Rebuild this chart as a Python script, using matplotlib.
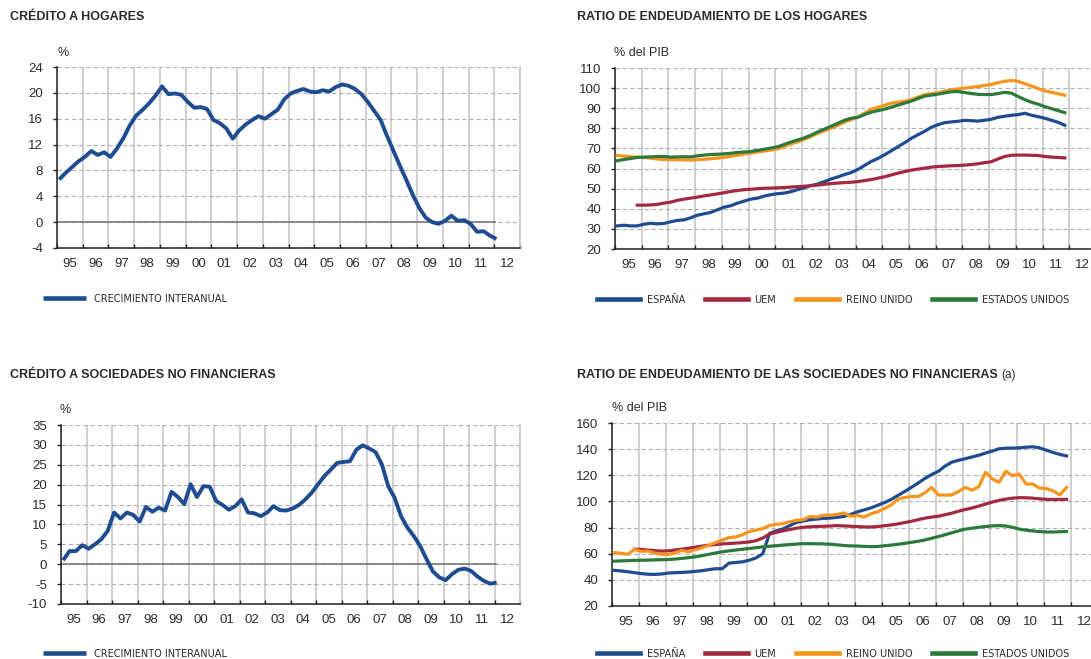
import numpy as np
import matplotlib
matplotlib.use('Agg')
import matplotlib.pyplot as plt
from matplotlib import font_manager

plt.rcParams['font.family'] = ['Liberation Sans', 'DejaVu Sans']
plt.rcParams['axes.unicode_minus'] = False

W, H = 1091, 659

BLUE = '#1f4b91'
RED = '#a4283f'
ORANGE = '#f7941d'
GREEN = '#2b7a3b'
TEXT = '#2b2b2b'
VGRID = '#cbcbcb'
HGRID = '#b0b0b0'

YEAR_LABELS = ['95', '96', '97', '98', '99', '00', '01', '02', '03',
               '04', '05', '06', '07', '08', '09', '10', '11', '12']

# quarterly data, 1995 Q1 onwards
credito_hogares = [
    6.6, 7.6, 8.5, 9.4,
    10.1, 11.0, 10.4, 10.8,
    10.1, 11.4, 13.0, 15.0,
    16.5, 17.4, 18.4, 19.6,
    21.0, 19.8, 19.9, 19.7,
    18.6, 17.7, 17.8, 17.5,
    15.8, 15.3, 14.5, 12.9,
    14.2, 15.1, 15.8, 16.4,
    16.0, 16.7, 17.4, 19.0,
    19.9, 20.3, 20.6, 20.2,
    20.1, 20.4, 20.2, 20.9,
    21.3, 21.1, 20.6, 19.8,
    18.6, 17.2, 15.8, 13.3,
    11.0, 8.7, 6.5, 4.2,
    2.2, 0.7, 0.0, -0.25,
    0.2, 1.0, 0.2, 0.3,
    -0.3, -1.5, -1.4, -2.1,
    -2.6,
]

credito_snf = [
    1.0, 3.3, 3.3, 4.8,
    3.9, 5.0, 6.3, 8.4,
    13.0, 11.5, 13.0, 12.4,
    10.7, 14.4, 13.2, 14.2,
    13.5, 18.2, 16.9, 15.1,
    20.1, 16.9, 19.6, 19.5,
    15.9, 14.9, 13.7, 14.6,
    16.3, 13.0, 12.8, 12.1,
    13.0, 14.6, 13.6, 13.5,
    14.0, 14.9, 16.3, 18.0,
    20.1, 22.2, 23.8, 25.5,
    25.7, 25.9, 28.8, 29.9,
    29.1, 28.2, 25.1, 19.6,
    16.7, 12.1, 9.2, 7.1,
    4.6, 1.3, -1.8, -3.3,
    -4.0, -2.5, -1.4, -1.1,
    -1.7, -3.1, -4.2, -4.9,
    -4.6,
]

hog_espana = [
    31.5, 31.8, 31.5, 31.5,
    32.3, 32.8, 32.5, 32.7,
    33.5, 34.2, 34.5, 35.5,
    36.8, 37.5, 38.2, 39.5,
    40.8, 41.5, 42.8, 43.8,
    44.8, 45.3, 46.3, 47.0,
    47.5, 47.8, 48.5, 49.5,
    50.5, 51.5, 52.3, 53.5,
    54.8, 55.8, 57.0, 58.0,
    59.5, 61.5, 63.5, 65.0,
    66.8, 68.8, 70.8, 72.8,
    75.0, 76.8, 78.5, 80.5,
    81.8, 82.8, 83.2, 83.5,
    84.0, 83.8, 83.6, 84.0,
    84.5, 85.5, 86.0, 86.5,
    86.8, 87.5, 86.5, 85.8,
    85.0, 84.0, 83.0, 81.5,
]
hog_uem = [
    np.nan, np.nan, np.nan, 41.8,
    41.8, 41.9, 42.2, 42.8,
    43.3, 44.2, 44.8, 45.3,
    45.8, 46.4, 46.9, 47.4,
    48.0, 48.6, 49.1, 49.5,
    49.7, 50.0, 50.2, 50.3,
    50.4, 50.6, 50.8, 51.0,
    51.2, 51.5, 51.8, 52.2,
    52.5, 52.8, 53.0, 53.2,
    53.5, 54.0, 54.5, 55.2,
    55.9, 56.8, 57.7, 58.5,
    59.2, 59.7, 60.2, 60.7,
    61.0, 61.2, 61.4, 61.5,
    61.7, 62.0, 62.4, 62.9,
    63.4, 64.8, 66.0, 66.6,
    66.7, 66.7, 66.6, 66.5,
    66.0, 65.7, 65.5, 65.3,
]
hog_reino_unido = [
    66.5, 66.2, 65.9, 65.7,
    65.5, 65.2, 64.8, 64.5,
    64.4, 64.4, 64.3, 64.2,
    64.4, 64.6, 64.9, 65.2,
    65.6, 66.1, 66.6, 67.2,
    67.7, 68.2, 68.7, 69.2,
    69.8, 71.0, 72.2, 73.3,
    74.5, 76.0, 77.5, 78.8,
    80.0, 81.5, 83.0, 84.3,
    85.5, 87.5, 89.5, 90.5,
    91.4, 92.5, 93.0, 93.5,
    94.2, 95.5, 96.7, 97.2,
    97.6, 98.5, 99.2, 99.6,
    100.0, 100.4, 100.8, 101.3,
    101.8, 102.7, 103.4, 103.8,
    103.4, 102.2, 101.0, 99.8,
    98.6, 97.9, 97.2, 96.4,
]
hog_eeuu = [
    63.9, 64.5, 65.0, 65.5,
    65.7, 65.8, 66.0, 66.0,
    65.7, 65.8, 65.9, 65.8,
    66.3, 66.7, 67.0, 67.1,
    67.3, 67.6, 68.0, 68.2,
    68.5, 69.0, 69.6, 70.2,
    70.8, 72.0, 73.2, 74.2,
    75.2, 76.6, 78.2, 79.6,
    81.0, 82.5, 84.0, 85.0,
    85.5, 86.8, 88.0, 88.8,
    89.5, 90.5, 91.5, 92.5,
    93.5, 94.8, 96.0, 96.5,
    97.0, 97.6, 98.2, 98.3,
    97.8, 97.3, 96.9, 96.8,
    96.8, 97.3, 97.9, 97.5,
    95.8, 94.3, 93.0, 92.0,
    90.8, 89.8, 88.8, 87.8,
]

snf_espana = [
    47.3, 46.8, 46.2, 45.5,
    44.8, 44.3, 44.2, 44.5,
    45.2, 45.5, 45.7, 46.0,
    46.5, 47.0, 47.8, 48.5,
    48.5, 52.8, 53.3, 53.8,
    55.0, 56.8, 60.0, 75.5,
    77.5, 79.0, 81.5, 84.0,
    85.0, 86.0, 86.5, 87.0,
    87.3, 87.8, 88.5, 90.0,
    92.0, 93.5, 95.0, 97.0,
    99.0, 101.5, 104.5, 107.5,
    110.7, 114.0, 117.5, 120.5,
    123.0, 127.0, 130.0, 131.5,
    132.7, 134.0, 135.3, 137.0,
    138.5, 140.3, 140.7, 140.8,
    141.0, 141.5, 141.8, 141.0,
    139.2, 137.5, 136.0, 134.8,
]
snf_uem = [
    np.nan, np.nan, np.nan, 63.5,
    63.3, 62.8, 62.3, 62.0,
    62.2, 62.8, 63.5, 64.2,
    65.0, 65.8, 66.5, 67.0,
    67.5, 67.8, 68.1, 68.5,
    69.0, 70.0, 72.0, 75.0,
    76.3, 77.5, 78.5, 79.5,
    80.2, 80.6, 80.8, 81.0,
    81.2, 81.5, 81.3, 81.0,
    80.8, 80.5, 80.4, 80.8,
    81.4, 82.0, 82.8, 83.8,
    84.8, 86.0, 87.2, 88.0,
    88.7, 89.8, 91.0, 92.5,
    93.8, 95.0, 96.4, 98.0,
    99.5, 100.8, 101.8, 102.5,
    102.9, 102.8, 102.5, 102.0,
    101.6, 101.5, 101.5, 101.6,
]
snf_reino_unido = [
    60.8, 60.3, 59.5, 63.3,
    61.8, 62.0, 60.5, 59.5,
    59.5, 60.5, 62.5, 61.5,
    63.0, 64.5, 66.5, 68.5,
    70.5, 72.3, 72.8, 74.5,
    77.0, 78.0, 79.2, 81.5,
    82.5, 83.0, 84.5, 85.5,
    86.0, 88.5, 88.0, 89.5,
    89.5, 90.0, 91.2, 88.7,
    89.4, 87.9, 90.5, 92.0,
    94.5, 97.2, 101.6, 103.0,
    103.7, 103.7, 106.5, 110.7,
    105.0, 104.8, 105.0, 107.6,
    110.7, 108.6, 111.2, 122.3,
    117.2, 114.6, 123.1, 119.7,
    121.0, 113.3, 113.3, 110.2,
    109.9, 108.1, 105.0, 110.7,
]
snf_eeuu = [
    54.3, 54.5, 54.7, 54.9,
    55.0, 55.1, 55.3, 55.4,
    55.5, 55.9, 56.4, 57.0,
    57.6, 58.5, 59.5, 60.5,
    61.5, 62.2, 62.8, 63.4,
    64.0, 64.6, 65.2, 65.7,
    66.1, 66.6, 67.0, 67.4,
    67.7, 67.7, 67.6, 67.5,
    67.2, 66.8, 66.3, 66.0,
    65.9, 65.6, 65.4, 65.5,
    66.1, 66.6, 67.2, 67.9,
    68.7, 69.5, 70.5, 71.8,
    73.1, 74.5, 76.0, 77.5,
    78.8, 79.5, 80.2, 80.8,
    81.3, 81.5, 81.2, 80.2,
    78.8, 78.0, 77.4, 77.0,
    76.6, 76.6, 76.8, 77.0,
]


def narrow_font():
    """ Pick a condensed face for the legends if one is installed. """
    names = {f.name for f in font_manager.fontManager.ttflist}
    if 'Liberation Sans Narrow' in names:
        return {'family': ['Liberation Sans Narrow'], 'size': 8.2}
    condensed = [f for f in font_manager.fontManager.ttflist
                 if f.name == 'DejaVu Sans' and 'condensed' in str(f.stretch)]
    if condensed:
        return {'family': ['DejaVu Sans'], 'stretch': 'condensed', 'size': 7.8}
    return {'family': ['Liberation Sans'], 'size': 7.0}


LEGEND_FONT = narrow_font()


def quarter_x(values):
    # quarterly observations plotted from the second month of each quarter
    return 1995 + 1 / 12 + 0.25 * np.arange(len(values))


def fig_rect(left, top, right, bottom):
    return [left / W, 1 - bottom / H, (right - left) / W, (bottom - top) / H]


def style_axes(ax, ylim, ystep):
    ax.set_xlim(1995, 2013)
    ax.set_ylim(*ylim)
    ax.set_xticks(np.arange(1995, 2014))
    ax.set_xticks(np.arange(1995, 2013) + 0.5, minor=True)
    ax.set_xticklabels([], minor=False)
    ax.set_xticklabels(YEAR_LABELS, minor=True)
    ax.set_yticks(np.arange(ylim[0], ylim[1] + ystep / 2, ystep))
    ax.tick_params(axis='x', which='major', direction='in', length=3,
                   width=1, color='#222222')
    ax.tick_params(axis='x', which='minor', length=0, pad=7,
                   labelsize=9.5, labelcolor=TEXT)
    ax.tick_params(axis='y', direction='out', length=3, width=1,
                   color='#222222', pad=7, labelsize=9.5, labelcolor=TEXT)
    ax.grid(True, axis='x', which='major', color=VGRID, lw=1.3, ls='-')
    ax.grid(True, axis='y', color=HGRID, lw=0.8, ls=(0, (4, 2.5)))
    ax.set_axisbelow(True)
    ax.spines['top'].set_visible(False)
    ax.spines['right'].set_color(VGRID)
    ax.spines['right'].set_linewidth(1.3)
    for side in ['left', 'bottom']:
        ax.spines[side].set_color('#222222')
        ax.spines[side].set_linewidth(1.1)


def add_legend(ax, fig, x, y, textpad):
    leg = ax.legend(loc='center left', bbox_to_anchor=(x / W, 1 - y / H),
                    bbox_transform=fig.transFigure, ncol=4, frameon=False,
                    borderpad=0, borderaxespad=0, handlelength=4.0,
                    handletextpad=textpad, columnspacing=1.8,
                    prop=LEGEND_FONT, labelcolor=TEXT)
    for line in leg.get_lines():
        line.set_linewidth(3.3)
    return leg


fig = plt.figure(figsize=(W / 100, H / 100), dpi=100)
fig.patch.set_facecolor('white')

# crédito a hogares
ax1 = fig.add_axes(fig_rect(57, 67, 520, 248))
style_axes(ax1, (-4, 24), 4)
x1 = quarter_x(credito_hogares)
ax1.hlines(0, 1995, x1[-1], color='#7a7a7a', lw=1.2, zorder=2)
ax1.plot(x1, credito_hogares, color=BLUE, lw=2.8, zorder=3,
         solid_capstyle='butt', label='CRECIMIENTO INTERANUAL')
add_legend(ax1, fig, 43, 299, 0.7)

# ratio hogares
ax2 = fig.add_axes(fig_rect(615, 68, 1096, 249))
style_axes(ax2, (20, 110), 10)
for vals, col, lab in [(hog_espana, BLUE, 'ESPAÑA'),
                       (hog_uem, RED, 'UEM'),
                       (hog_reino_unido, ORANGE, 'REINO UNIDO'),
                       (hog_eeuu, GREEN, 'ESTADOS UNIDOS')]:
    ax2.plot(quarter_x(vals), vals, color=col, lw=2.3, zorder=3, label=lab)
add_legend(ax2, fig, 597, 300, 0.6)

# crédito a sociedades no financieras
ax3 = fig.add_axes(fig_rect(61, 425, 520, 604))
style_axes(ax3, (-10, 35), 5)
x3 = quarter_x(credito_snf)
ax3.hlines(0, 1995, x3[-1], color='#7a7a7a', lw=1.2, zorder=2)
ax3.plot(x3, credito_snf, color=BLUE, lw=2.8, zorder=3,
         solid_capstyle='butt', label='CRECIMIENTO INTERANUAL')
add_legend(ax3, fig, 43, 654, 0.7)

# ratio sociedades no financieras
ax4 = fig.add_axes(fig_rect(612, 423, 1098, 606))
style_axes(ax4, (20, 160), 20)
for vals, col, lab in [(snf_espana, BLUE, 'ESPAÑA'),
                       (snf_uem, RED, 'UEM'),
                       (snf_reino_unido, ORANGE, 'REINO UNIDO'),
                       (snf_eeuu, GREEN, 'ESTADOS UNIDOS')]:
    ax4.plot(quarter_x(vals), vals, color=col, lw=2.3, zorder=3, label=lab)
add_legend(ax4, fig, 597, 654, 0.6)

# titles and units
title_kw = dict(fontsize=9, fontweight='bold', color=TEXT, va='center')
fig.text(10 / W, 1 - 17 / H, 'CRÉDITO A HOGARES', **title_kw)
fig.text(577 / W, 1 - 17 / H, 'RATIO DE ENDEUDAMIENTO DE LOS HOGARES', **title_kw)
fig.text(10 / W, 1 - 375 / H, 'CRÉDITO A SOCIEDADES NO FINANCIERAS', **title_kw)
t4 = fig.text(577 / W, 1 - 375 / H,
              'RATIO DE ENDEUDAMIENTO DE LAS SOCIEDADES NO FINANCIERAS',
              **title_kw)

unit_kw = dict(fontsize=9, color=TEXT, va='center', ha='left')
fig.text(57 / W, 1 - 53 / H, '%', **unit_kw)
fig.text(614 / W, 1 - 53 / H, '% del PIB', **unit_kw)
fig.text(60 / W, 1 - 410 / H, '%', **unit_kw)
fig.text(612 / W, 1 - 408 / H, '% del PIB', **unit_kw)

fig.canvas.draw()
bb = t4.get_window_extent()
fig.text((bb.x1 + 4) / W, 1 - 375 / H, '(a)', fontsize=8.5, color=TEXT,
         va='center')

fig.savefig('out.png', dpi=100, facecolor='white')
